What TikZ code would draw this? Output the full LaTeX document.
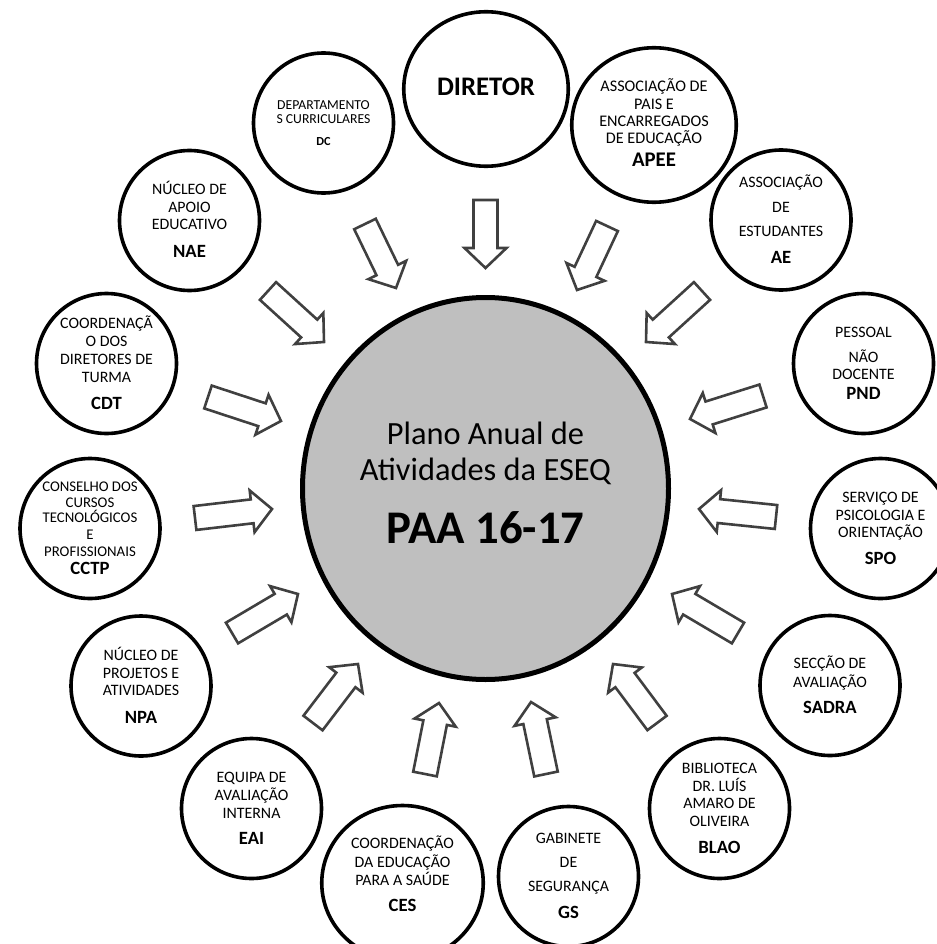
\documentclass[tikz,border=0pt]{standalone}
\usepackage{fontspec}
\setmainfont{Carlito}
\usetikzlibrary{shapes.geometric}
\definecolor{arrowgray}{HTML}{404040}
\definecolor{hubgray}{HTML}{BFBFBF}
\newcommand\fsz[1]{\fontsize{#1}{#1}\selectfont}
\newcommand\textlines[4]{%
  \foreach \ya/\mytext [count=\i] in {#3} {\node[#4] (#1-\i) at (#2,-\ya) {\mytext};}%
}
\newcommand\blockarrow[5]{%
  \pgfmathsetmacro\bdx{#4-#2}\pgfmathsetmacro\bdy{#3-#5}%
  \pgfmathsetmacro\bang{atan2(\bdy,\bdx)}\pgfmathsetmacro\blen{veclen(\bdx,\bdy)}%
  \pgfmathsetmacro\bneck{\blen-20}%
  \coordinate (#1-tail) at (#2,-#3);
  \coordinate (#1-tip) at (#4,-#5);
  \draw[arr, shift={(#1-tail)}, rotate=\bang] (0,-12) -- (\bneck,-12) -- (\bneck,-21) -- (\blen,0) -- (\bneck,21) -- (\bneck,12) -- (0,12) -- cycle;
}
\tikzset{
  sat/.style={circle, draw=black, line width=3.6pt, minimum size=140pt, inner sep=0pt},
  bigsat/.style={ellipse, draw=black, line width=3.6pt, minimum width=164.5pt, minimum height=154.5pt, inner sep=0pt},
  hub/.style={ellipse, draw=black, line width=5pt, fill=hubgray, minimum width=366pt, minimum height=382pt, inner sep=0pt},
  txt/.style={anchor=base, inner sep=0pt, font=\fsz{15.9}},
  apeetxt/.style={anchor=base, inner sep=0pt, font=\fsz{16.2}},
  smalltxt/.style={anchor=base, inner sep=0pt, font=\fsz{14.8}},
  dctxt/.style={anchor=base, inner sep=0pt, font=\fsz{13.7}},
  acr/.style={anchor=base, inner sep=0pt, font=\fsz{18.7}\bfseries},
  arr/.style={draw=arrowgray, line width=2.6pt, line join=miter},
}
\begin{document}
\begin{tikzpicture}[x=1pt,y=1pt]
\useasboundingbox (0,0) rectangle (936,-944);

% central
\node[hub] (paa) at (485.5,-488.5) {};
\node[anchor=base, inner sep=0pt, font=\fsz{32.4}] (paa-1) at (485.5,-444) {Plano Anual de};
\node[anchor=base, inner sep=0pt, font=\fsz{32.4}] (paa-2) at (485.5,-480) {Atividades da ESEQ};
\node[anchor=base, inner sep=0pt, font=\fsz{46.8}\bfseries] (paa-3) at (485.5,-543) {PAA 16-17};

% satellites
\node[bigsat] (dir) at (486,-89) {};
\node[anchor=base, inner sep=0pt, font=\fsz{26.8}\bfseries] (dir-1) at (486,-96) {DIRETOR};

\node[sat] (dc) at (323.5,-123) {};
\textlines{dc}{323.5}{110/DEPARTAMENTO, 124/S CURRICULARES}{dctxt}
\node[anchor=base, inner sep=0pt, font=\fsz{12.3}\bfseries] (dc-a) at (323.5,-146) {DC};

\node[bigsat] (apee) at (654,-125) {};
\textlines{apee}{654}{92/ASSOCIAÇÃO DE, 110/PAIS E, 127/ENCARREGADOS, 144/DE EDUCAÇÃO}{apeetxt}
\node[anchor=base, inner sep=0pt, font=\fsz{20.8}\bfseries] (apee-a) at (654,-167) {APEE};

\node[sat] (ae) at (781,-220) {};
\textlines{ae}{781}{187/ASSOCIAÇÃO, 212/DE, 236/ESTUDANTES}{txt}
\node[acr] (ae-a) at (781,-263) {AE};

\node[sat] (pnd) at (863.5,-363.5) {};
\textlines{pnd}{863.5}{337/PESSOAL, 362/NÃO, 379/DOCENTE}{txt}
\node[acr] (pnd-a) at (863.5,-399) {PND};

\node[sat] (spo) at (880.5,-528.5) {};
\textlines{spo}{880.5}{502/SERVIÇO DE, 520/PSICOLOGIA E, 537/ORIENTAÇÃO}{txt}
\node[acr] (spo-a) at (880.5,-564) {SPO};

\node[sat] (sadra) at (830,-685.5) {};
\textlines{sadra}{830}{668/SECÇÃO DE, 687/AVALIAÇÃO}{txt}
\node[acr] (sadra-a) at (830,-713) {SADRA};

\node[sat] (blao) at (719.5,-808.5) {};
\textlines{blao}{719.5}{773/BIBLIOTECA, 791/DR. LUÍS, 808/AMARO DE, 826/OLIVEIRA}{txt}
\node[acr] (blao-a) at (719.5,-853) {BLAO};

\node[sat] (gs) at (568.5,-876.5) {};
\textlines{gs}{568.5}{843/GABINETE, 867/DE, 891/SEGURANÇA}{txt}
\node[acr] (gs-a) at (568.5,-918) {GS};

\node[ellipse, draw=black, line width=3.6pt, minimum width=161.5pt, minimum height=155pt, inner sep=0pt] (ces) at (402.5,-883) {};
\textlines{ces}{402.5}{848/COORDENAÇÃO, 867/DA EDUCAÇÃO, 885/PARA A SAÚDE}{txt}
\node[acr] (ces-a) at (402.5,-911) {CES};

\node[sat] (eai) at (251.5,-808.5) {};
\textlines{eai}{251.5}{782/EQUIPA DE, 800/AVALIAÇÃO, 818/INTERNA}{txt}
\node[acr] (eai-a) at (251.5,-844) {EAI};

\node[sat] (npa) at (141,-686) {};
\textlines{npa}{141}{660/NÚCLEO DE, 678/PROJETOS E, 695/ATIVIDADES}{txt}
\node[acr] (npa-a) at (141,-723) {NPA};

\node[sat] (cctp) at (90,-528.5) {};
\textlines{cctp}{90}{491/CONSELHO DOS, 507/CURSOS, 522/TECNOLÓGICOS, 539/E, 556/PROFISSIONAIS}{smalltxt}
\node[acr] (cctp-a) at (90,-574) {CCTP};

\node[sat] (cdt) at (106.5,-363.5) {};
\textlines{cdt}{106.5}{328/COORDENAÇÃ, 346/O DOS, 364/DIRETORES DE, 382/TURMA}{txt}
\node[acr] (cdt-a) at (106.5,-409) {CDT};

\node[sat] (nae) at (189.5,-220.5) {};
\textlines{nae}{189.5}{194/NÚCLEO DE, 212/APOIO, 229/EDUCATIVO}{txt}
\node[acr] (nae-a) at (189.5,-257) {NAE};

% block arrows (tail x,y -> tip x,y in pixel coords)
\blockarrow{adir}{485.5}{200}{485.5}{268}
\blockarrow{adc}{365}{224}{396}{288}
\blockarrow{aapee}{607}{226}{577}{290}
\blockarrow{anae}{268}{291}{324}{342}
\blockarrow{aae}{702}{291}{646}{342}
\blockarrow{acdt}{208}{397}{281}{421}
\blockarrow{apnd}{763}{396}{690}{419}
\blockarrow{acctp}{195}{518}{272}{509}
\blockarrow{aspo}{776}{517}{699}{509}
\blockarrow{anpa}{232}{633}{298}{594}
\blockarrow{asadra}{738}{633}{672}{594}
\blockarrow{aeai}{313}{723}{358}{664}
\blockarrow{ablao}{657}{723}{613}{664}
\blockarrow{aces}{425}{774}{439}{703}
\blockarrow{ags}{546}{774}{531}{702}
\end{tikzpicture}
\end{document}
